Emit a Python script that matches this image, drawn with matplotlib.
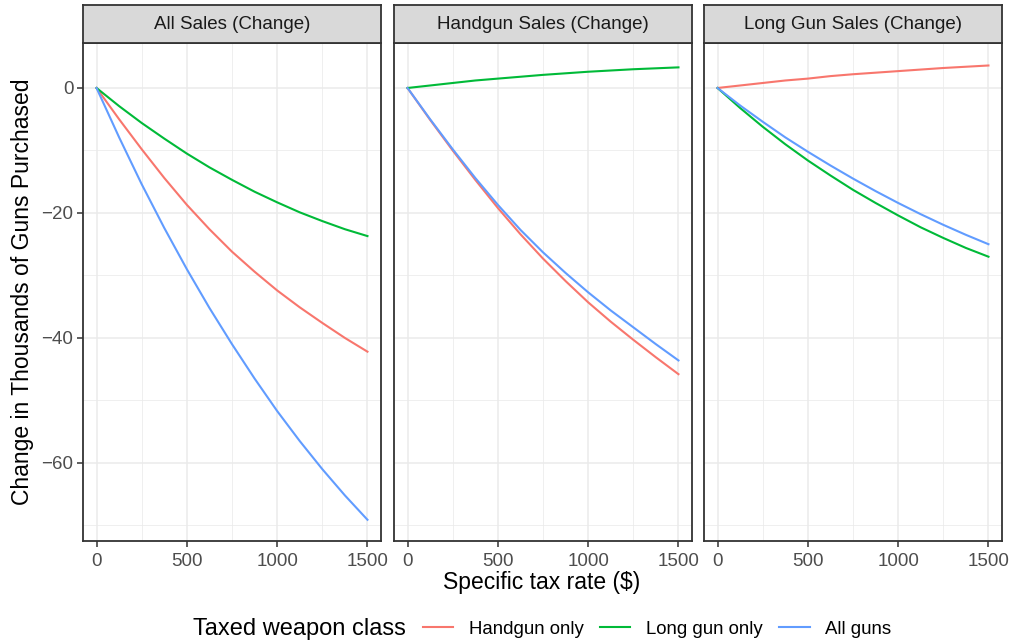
import matplotlib
matplotlib.use("Agg")
import matplotlib.pyplot as plt
from matplotlib.lines import Line2D

# data (thousands of guns, change vs. tax rate)
tax = [0, 125, 250, 375, 500, 625, 750, 875, 1000, 1125, 1250, 1375, 1500]

panels = ["All Sales (Change)", "Handgun Sales (Change)", "Long Gun Sales (Change)"]
classes = ["Handgun only", "Long gun only", "All guns"]
colors = ["#F8766D", "#00BA38", "#619CFF"]

all_handgun = [0, -5.0, -9.8, -14.4, -18.7, -22.6, -26.2, -29.4, -32.4, -35.1, -37.6, -40.0, -42.2]
all_longgun = [0, -2.9, -5.6, -8.1, -10.5, -12.7, -14.7, -16.6, -18.3, -19.9, -21.3, -22.6, -23.7]
all_allguns = [0, -7.9, -15.4, -22.4, -29.0, -35.2, -41.0, -46.5, -51.7, -56.5, -61.0, -65.2, -69.1]

hg_handgun = [0, -5.1, -10.0, -14.7, -19.2, -23.4, -27.3, -30.9, -34.3, -37.4, -40.3, -43.1, -45.8]
hg_longgun = [0, 0.4, 0.8, 1.2, 1.5, 1.8, 2.1, 2.35, 2.6, 2.8, 3.0, 3.15, 3.3]
hg_allguns = [0, -5.0, -9.8, -14.4, -18.7, -22.7, -26.3, -29.6, -32.7, -35.6, -38.3, -41.0, -43.6]

lg_handgun = [0, 0.4, 0.8, 1.2, 1.5, 1.9, 2.2, 2.45, 2.7, 2.95, 3.2, 3.4, 3.6]
lg_longgun = [0, -3.2, -6.2, -9.0, -11.6, -14.0, -16.3, -18.4, -20.4, -22.3, -24.0, -25.6, -27.0]
lg_allguns = [0, -2.8, -5.4, -7.9, -10.2, -12.4, -14.5, -16.5, -18.4, -20.2, -21.9, -23.5, -25.0]

series = [
    [all_handgun, all_longgun, all_allguns],
    [hg_handgun, hg_longgun, hg_allguns],
    [lg_handgun, lg_longgun, lg_allguns],
]

xticks = [0, 500, 1000, 1500]
yticks = [0, -20, -40, -60]

plt.rcParams['font.family'] = ['Liberation Sans', 'DejaVu Sans']

W, H = 1013, 644
fig = plt.figure(figsize=(W / 100, H / 100), dpi=100)

lefts = [83, 394, 704]
pw = 298
ptop, pbot = 43, 541
stop = 5

for i, name in enumerate(panels):
    ax = fig.add_axes([lefts[i] / W, 1 - pbot / H, pw / W, (pbot - ptop) / H])
    for vals, c in zip(series[i], colors):
        ax.plot(tax, vals, color=c, lw=1.5, solid_joinstyle='round')
    ax.set_xlim(-75, 1575)
    ax.set_ylim(-72.5, 7.2)
    ax.set_xticks(xticks)
    ax.set_xticks([250, 750, 1250], minor=True)
    ax.set_yticks(yticks)
    ax.set_yticks([-10, -30, -50, -70], minor=True)
    ax.grid(which='major', color='#EBEBEB', lw=1.1)
    ax.grid(which='minor', color='#EBEBEB', lw=0.55)
    ax.set_axisbelow(True)
    for s in ax.spines.values():
        s.set_color('#333333')
        s.set_linewidth(1.3)
    ax.tick_params(which='minor', length=0)
    ax.tick_params(which='major', length=4, width=1.1, color='#333333',
                   labelcolor='#4D4D4D', labelsize=13.5, pad=3)
    ax.tick_params(axis='x', pad=4.5)
    if i > 0:
        ax.tick_params(axis='y', length=0, labelleft=False)
    else:
        ax.set_yticklabels(['0', '\u221220', '\u221240', '\u221260'])

    sax = fig.add_axes([lefts[i] / W, 1 - ptop / H, pw / W, (ptop - stop) / H])
    sax.set_facecolor('#D9D9D9')
    sax.set_xticks([])
    sax.set_yticks([])
    for s in sax.spines.values():
        s.set_color('#333333')
        s.set_linewidth(1.3)
    sax.text(0.5, 0.48, name, ha='center', va='center', fontsize=13.5,
             color='#1A1A1A', transform=sax.transAxes)

fig.text(23 / W, 1 - 292 / H, 'Change in Thousands of Guns Purchased',
         rotation=90, ha='center', va='center', fontsize=16.5, color='black')
fig.text(542 / W, 1 - 583 / H, 'Specific tax rate ($)',
         ha='center', va='center', fontsize=16.5, color='black')

handles = [Line2D([], [], color=c, lw=1.5) for c in colors]
fig.legend(handles, classes, loc='center', bbox_to_anchor=(657 / W, 1 - 629 / H),
           ncol=3, frameon=False, fontsize=13.4, handlelength=1.65,
           handletextpad=0.85, columnspacing=0.85, borderaxespad=0, borderpad=0)
fig.text(406 / W, 1 - 629 / H, 'Taxed weapon class', ha='right', va='center',
         fontsize=17, color='black')

fig.savefig('out.png', dpi=100)
